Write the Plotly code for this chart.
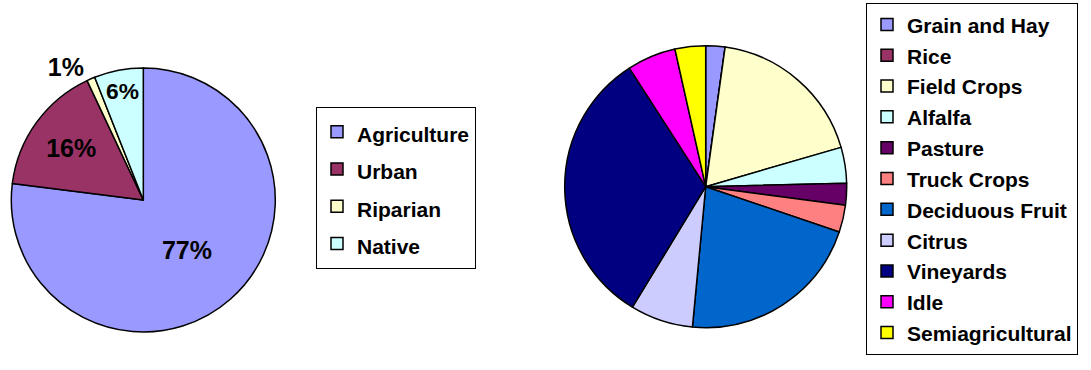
import plotly.graph_objects as go

# Land use (left pie)
land_labels = ["Agriculture", "Urban", "Riparian", "Native"]
land_values = [77, 16, 1, 6]
land_colors = ["#9999FF", "#993366", "#FFFFCC", "#CCFFFF"]

# Crop types (right pie)
crop_labels = ["Grain and Hay", "Rice", "Field Crops", "Alfalfa", "Pasture",
               "Truck Crops", "Deciduous Fruit", "Citrus", "Vineyards", "Idle",
               "Semiagricultural"]
crop_values = [2.2, 0, 18.3, 4.1, 2.5, 3.1, 21.3, 7.2, 32.2, 5.6, 3.5]
crop_colors = ["#9999FF", "#993366", "#FFFFCC", "#CCFFFF", "#660066",
               "#FF8080", "#0066CC", "#CCCCFF", "#000080", "#FF00FF", "#FFFF00"]

FONT = "Arial, Liberation Sans, sans-serif"
W, H = 1091, 370


def span(t, size):
    return f'<span style="font-size:{size}px">{t}</span>'


fig = go.Figure()

fig.add_trace(go.Pie(
    labels=[span(l, 21) for l in land_labels],
    values=land_values,
    sort=False,
    direction="clockwise",
    rotation=0,
    marker=dict(colors=land_colors, line=dict(color="black", width=1.5)),
    textinfo="percent",
    textposition=["inside", "inside", "outside", "inside"],
    insidetextorientation="horizontal",
    textfont=dict(family=FONT, size=25, color="black", weight="bold"),
    domain=dict(x=[(143.3 - 132) / W, (143.3 + 132) / W],
                y=[(170 - 132) / H, (170 + 132) / H]),
    hoverinfo="label+percent",
    legend="legend",
))

fig.add_trace(go.Pie(
    labels=[span(l, 21) for l in crop_labels],
    values=crop_values,
    sort=False,
    direction="clockwise",
    rotation=0,
    marker=dict(colors=crop_colors, line=dict(color="black", width=1.5)),
    textinfo="none",
    domain=dict(x=[(705.7 - 141) / W, (705.7 + 141) / W],
                y=[(183.3 - 141) / H, (183.3 + 141) / H]),
    hoverinfo="label+percent",
    legend="legend2",
))

fig.update_layout(
    width=W, height=H,
    margin=dict(l=0, r=0, t=0, b=0),
    paper_bgcolor="white",
    plot_bgcolor="white",
    font=dict(family=FONT, color="black"),
    legend=dict(
        x=316 / W, y=1 - 107 / H, xanchor="left", yanchor="top",
        bordercolor="black", borderwidth=1, bgcolor="white",
        font=dict(family=FONT, size=26.4, color="black", weight="bold"),
        traceorder="normal",
    ),
    legend2=dict(
        x=866 / W, y=1 - 3 / H, xanchor="left", yanchor="top",
        bordercolor="black", borderwidth=1, bgcolor="white",
        font=dict(family=FONT, size=21.4, color="black", weight="bold"),
        traceorder="normal",
    ),
)

fig.write_html("out.html")
